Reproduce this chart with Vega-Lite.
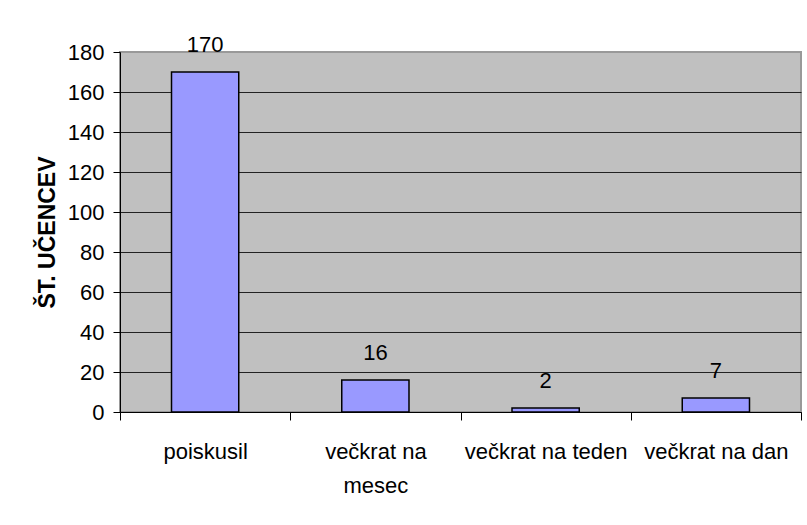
{
  "$schema": "https://vega.github.io/schema/vega-lite/v6.json",
  "autosize": {"type": "none"},
  "padding": {"left": 120, "top": 52, "right": 6, "bottom": 113},
  "width": 681,
  "height": 360,
  "background": "white",
  "config": {
    "font": "Liberation Sans",
    "view": {"fill": "#C0C0C0", "stroke": "#999999", "strokeWidth": 2}
  },
  "data": {
    "values": [
      {"kategorija": "poiskusil", "st": 170},
      {"kategorija": "večkrat na mesec", "st": 16},
      {"kategorija": "večkrat na teden", "st": 2},
      {"kategorija": "večkrat na dan", "st": 7}
    ]
  },
  "encoding": {
    "x": {
      "field": "kategorija",
      "type": "nominal",
      "sort": null,
      "scale": {"paddingInner": 0, "paddingOuter": 0},
      "axis": {
        "title": null,
        "labelAngle": 0,
        "labelFont": "Liberation Sans",
        "labelFontSize": 22,
        "labelColor": "black",
        "labelPadding": 21,
        "labelLineHeight": 34,
        "labelExpr": "datum.label == 'večkrat na mesec' ? ['večkrat na', 'mesec'] : datum.label",
        "tickBand": "extent",
        "tickSize": 8,
        "tickColor": "black",
        "domainColor": "black",
        "grid": false
      }
    },
    "y": {
      "field": "st",
      "type": "quantitative",
      "scale": {"domain": [0, 180]},
      "axis": {
        "title": "ŠT. UČENCEV",
        "titleFont": "Liberation Sans",
        "titleFontSize": 23,
        "titleFontWeight": "bold",
        "titleColor": "black",
        "titleAngle": -90,
        "titleAlign": "center",
        "titleBaseline": "middle",
        "titleX": -73,
        "titleY": 180,
        "values": [0, 20, 40, 60, 80, 100, 120, 140, 160, 180],
        "labelFont": "Liberation Sans",
        "labelFontSize": 22,
        "labelColor": "black",
        "labelPadding": 9,
        "tickSize": 7,
        "tickColor": "black",
        "domainColor": "black",
        "grid": true,
        "gridColor": {"condition": {"test": "datum.value == 180", "value": "#999999"}, "value": "#222222"},
        "gridOpacity": 1
      }
    }
  },
  "layer": [
    {
      "mark": {"type": "bar", "width": {"band": 0.395}, "fill": "#9999FF", "stroke": "black", "strokeWidth": 1.5}
    },
    {
      "mark": {"type": "text", "baseline": "alphabetic", "dy": -20, "fontSize": 22, "font": "Liberation Sans", "color": "black"},
      "encoding": {"text": {"field": "st", "type": "quantitative"}}
    }
  ]
}
